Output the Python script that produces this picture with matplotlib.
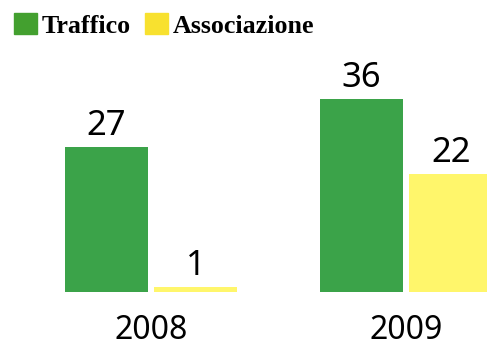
import matplotlib
matplotlib.use("Agg")
import matplotlib.pyplot as plt
from matplotlib.patches import Patch
import numpy as np

years = ["2008", "2009"]
traffico = [27, 36]
associazione = [1, 22]
series_names = ["Traffico", "Associazione"]

bar_green = "#3ba349"
bar_yellow = "#fff66b"
key_green = "#43a02f"
key_yellow = "#f8e12f"

fig = plt.figure(figsize=(4.87, 3.45), dpi=100)
ax = fig.add_axes([0, 53 / 345, 1, 292 / 345])

x = np.arange(len(years))
width = 0.3255
offset = 0.175

b1 = ax.bar(x - offset, traffico, width, color=bar_green)
b2 = ax.bar(x + offset, associazione, width, color=bar_yellow)

# value on top of each bar
for bars, vals in [(b1, traffico), (b2, associazione)]:
    for rect, v in zip(bars, vals):
        ax.annotate(str(v), (rect.get_x() + rect.get_width() / 2, v),
                    xytext=(0, 8.5), textcoords="offset points",
                    ha="center", va="baseline", fontsize=25, family="Noto Sans")

ax.set_xlim(-151 / 255, (487 - 151) / 255)
ax.set_ylim(0, 292 / 5.37)
ax.set_xticks(x, years, fontsize=23, family="Noto Sans")
ax.tick_params(axis="x", length=0, pad=16)
ax.set_yticks([])
for s in ax.spines.values():
    s.set_visible(False)

handles = [Patch(color=key_green), Patch(color=key_yellow)]
fig.legend(handles, series_names, loc="upper left", ncol=2,
           bbox_to_anchor=(14 / 487, 1 - 13 / 345), frameon=False,
           borderaxespad=0, borderpad=0, handlelength=0.885, handleheight=0.87,
           handletextpad=0.18, columnspacing=0.55,
           prop={"family": "Liberation Serif", "weight": "bold", "size": 18.7})

fig.savefig("out.png", dpi=100)
